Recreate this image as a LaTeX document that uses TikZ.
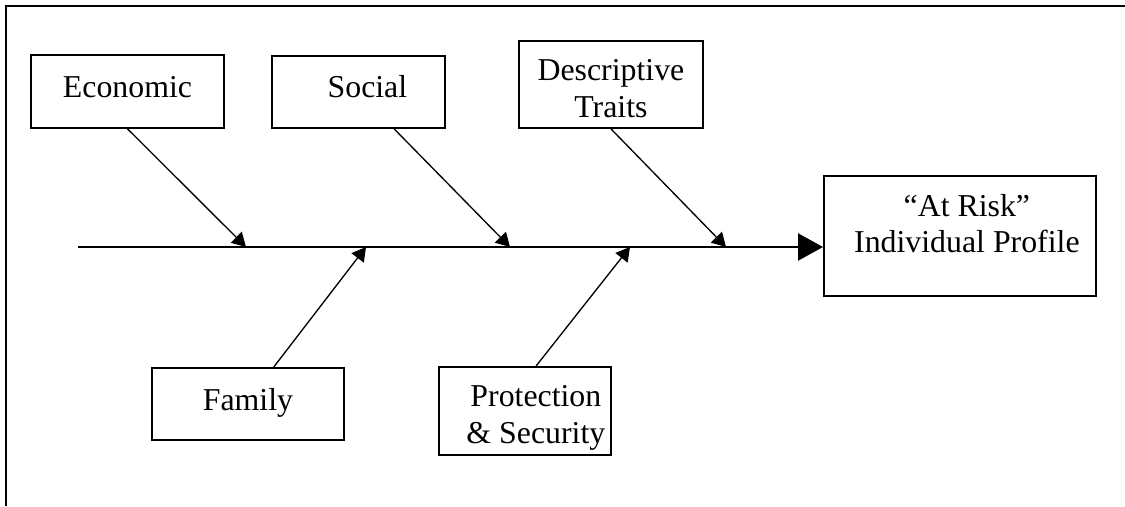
\documentclass[tikz,border=0pt]{standalone}
\usepackage{fontspec}
\setmainfont{Liberation Serif}
\usepackage{tikz}
\usetikzlibrary{calc, arrows, arrows.meta}
\tikzset{>={Triangle[width=5.8pt,length=5.2pt]}}
\tikzset{cause/.style={draw,line width=0.7pt,inner sep=0pt,align=center,
	anchor=north west,font=\fontsize{12}{13.6}\selectfont}}

\begin{document}
\begin{tikzpicture}[x=0.377pt,y=-0.377pt]
	\useasboundingbox (0,0) rectangle (1125,506);
	\draw[line width=0.9pt] (1125,6) -- (6,6) -- (6,506);
	\node[cause,minimum width=72.8pt,text height=16pt,text depth=11.5pt] (econ) at (30,54) {Economic};
	\node[cause,minimum width=65.2pt,text height=15.8pt,text depth=11.3pt] (social) at (271,55) {\kern6.8pt Social};
	\node[cause,minimum width=69.4pt,text height=28.7pt,text depth=4.1pt] (desc) at (518,40) {Descriptive\\Traits};
	\node[cause,minimum width=72.4pt,text height=16pt,text depth=11.1pt] (family) at (151,367) {Family};
	\node[cause,minimum width=64.8pt,text height=28.7pt,text depth=4.5pt] (protect) at (438,366)
		{\kern8.3pt Protection\\\kern8.3pt\& Security};
	\node[cause,minimum width=102.5pt,text height=29pt,text depth=16.2pt] (risk) at (823,175)
		{\kern5.3pt “At Risk”\\\kern5.3pt Individual Profile};
	\coordinate (tail) at (78,247);
	\foreach \name / \xpos in {e1/246, s1/510, d1/726, f1/366, p1/630}
		\coordinate (\name) at (\xpos,247);
	\draw[line width=0.7pt,-{Triangle[width=10.2pt,length=9.4pt]}] (tail) -- (tail -| risk.west);
	\foreach \src / \ang / \dst in {econ/-90/e1, social/-46/s1, desc/-90/d1, family/55/f1, protect/76/p1}
		\draw[line width=0.5pt,->] (\src.\ang) -- (\dst);
\end{tikzpicture}
\end{document}
